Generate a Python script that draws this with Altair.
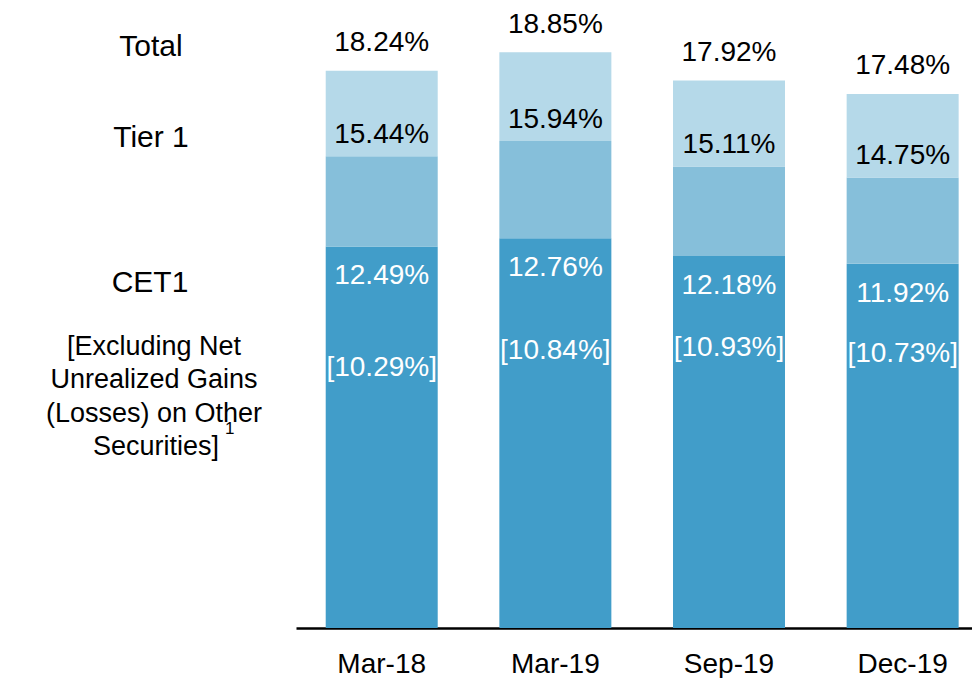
import altair as alt
import pandas as pd

periods = ["Mar-18", "Mar-19", "Sep-19", "Dec-19"]
cet1 = [12.49, 12.76, 12.18, 11.92]
tier1 = [15.44, 15.94, 15.11, 14.75]
total = [18.24, 18.85, 17.92, 17.48]
excl = [10.29, 10.84, 10.93, 10.73]

segments = ["CET1", "Tier 1", "Total"]
colors = ["#419DC9", "#86BFDA", "#B5D9E9"]

rows = []
for i, p in enumerate(periods):
    rows.append({"period": p, "segment": "CET1", "start": 0.0, "end": cet1[i]})
    rows.append({"period": p, "segment": "Tier 1", "start": cet1[i], "end": tier1[i]})
    rows.append({"period": p, "segment": "Total", "start": tier1[i], "end": total[i]})
seg_df = pd.DataFrame(rows)

lab_df = pd.DataFrame({
    "period": periods,
    "cet1": cet1,
    "tier1": tier1,
    "total": total,
    "excl": excl,
})
lab_df["cet1_l"] = [f"{v:.2f}%" for v in cet1]
lab_df["tier1_l"] = [f"{v:.2f}%" for v in tier1]
lab_df["total_l"] = [f"{v:.2f}%" for v in total]
lab_df["excl_l"] = [f"[{v:.2f}%]" for v in excl]

FONT = "Liberation Sans"

x_enc = alt.X(
    "period:N",
    sort=periods,
    scale=alt.Scale(paddingInner=0.355, paddingOuter=0.124, align=0.69),
    axis=alt.Axis(
        title=None, labelAngle=0, labelFontSize=28, labelFont=FONT,
        labelColor="black", ticks=False, tickSize=0, labelPadding=22,
        domainColor="black", domainWidth=2.5, grid=False,
    ),
)
y_scale = alt.Scale(domain=[0, 20], nice=False, zero=True)

bars = alt.Chart(seg_df).mark_bar().encode(
    x=x_enc,
    y=alt.Y("start:Q", scale=y_scale, axis=None),
    y2="end:Q",
    color=alt.Color("segment:N", scale=alt.Scale(domain=segments, range=colors), legend=None),
)

base = alt.Chart(lab_df)

def lbl(field, text, dy, color):
    return base.mark_text(
        dy=dy, fontSize=28, font=FONT, color=color, baseline="middle", align="center"
    ).encode(
        x=alt.X("period:N", sort=periods),
        y=alt.Y(f"{field}:Q", scale=y_scale, axis=None),
        text=f"{text}:N",
    )

t_total = lbl("total", "total_l", -27.5, "black")
t_tier1 = lbl("tier1", "tier1_l", -21, "black")
t_cet1 = lbl("cet1", "cet1_l", 30, "white")
t_excl = lbl("excl", "excl_l", 54, "white")

def note(text, x, y, size=30, align="center"):
    return alt.Chart(pd.DataFrame({"t": [text]})).mark_text(
        fontSize=size, font=FONT, color="black", baseline="middle", align=align
    ).encode(x=alt.value(x), y=alt.value(y), text="t:N")

notes = [
    note("Total", -145, 30),
    note("Tier 1", -145, 121),
    note("CET1", -146, 266),
    note("[Excluding Net", -142, 330, 27),
    note("Unrealized Gains", -142, 363, 27),
    note("(Losses) on Other", -142, 397, 27),
    note("Securities]", -77, 430, 27, "right"),
    note("1", -71, 412, 17, "left"),
]

chart = alt.layer(bars, t_total, t_tier1, t_cet1, t_excl, *notes).properties(
    width=676,
    height=611,
    padding={"left": 288, "top": 9, "right": 0, "bottom": 58},
    autosize=alt.AutoSizeParams(type="none"),
).configure(font=FONT).configure_view(strokeWidth=0, stroke="transparent")

chart.save("out.html", embed_options={"renderer": "svg", "actions": False})
